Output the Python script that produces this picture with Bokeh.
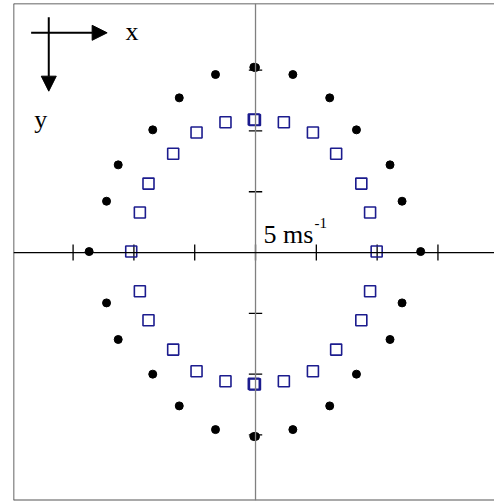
from bokeh.plotting import figure
from bokeh.models import Range1d, Span, Arrow, NormalHead, Label, ColumnDataSource
from bokeh.embed import file_html
from bokeh.resources import INLINE

# Velocity components in m/s (x to the right, y downwards)
dots_x = [-0.14, 0.0, -3.29, -6.27, -8.45, -11.29, -12.25, -13.68, -12.25, -11.29, -8.45, -6.27, -3.29, -0.14, 0.0,
          3.07, 6.10, 8.30, 11.06, 12.05, 13.58, 12.05, 11.06, 8.30, 6.10, 3.07]
dots_y = [-15.24, -15.22, -14.64, -12.72, -10.09, -7.21, -4.22, -0.08, 4.14, 7.15, 10.00, 12.61, 14.56, 15.13, 15.12,
          14.56, 12.61, 10.00, 7.15, 4.14, -0.08, -4.22, -7.21, -10.09, -12.72, -14.64]

squares_x = [-0.14, -0.05, -2.47, -4.85, -6.77, -8.80, -9.51, -10.22, -9.51, -8.80, -6.77, -4.85, -2.47, -0.14, -0.05,
             2.33, 4.72, 6.63, 8.70, 9.42, 9.96, 9.42, 8.70, 6.63, 4.72, 2.33]
squares_y = [-10.94, -10.90, -10.72, -9.87, -8.12, -5.67, -3.29, -0.08, 3.18, 5.57, 7.98, 9.76, 10.58, 10.80, 10.84,
             10.58, 9.76, 7.98, 5.57, 3.18, -0.08, -3.29, -5.67, -8.12, -9.87, -10.72]

x_ticks = [-15, -10, -5, 0, 5, 10, 15]
y_ticks = [-15, -10, -5, 5, 10, 15]

scale_text = "5 ms"
scale_sup = "-1"

x_range = Range1d(-19.9, 19.65)
y_range = Range1d(20.39, -20.48)  # y increases downwards

p = figure(width=494, height=501, x_range=x_range, y_range=y_range,
           output_backend="svg", toolbar_location=None,
           x_axis_location=None, y_axis_location=None,
           min_border_left=13, min_border_right=0, min_border_top=3, min_border_bottom=1)
p.outline_line_color = None
p.background_fill_color = "white"
p.border_fill_color = "white"
for g in p.grid:
    g.visible = False

# frame on three sides
p.add_layout(Span(location=x_range.start, dimension="height", line_color="#333333", line_width=1.5))
p.add_layout(Span(location=y_range.end, dimension="width", line_color="#333333", line_width=1.5))
p.add_layout(Span(location=y_range.start, dimension="width", line_color="#555555", line_width=2))

# central axes
p.add_layout(Span(location=0, dimension="height", line_color="#808080", line_width=1.3))
p.add_layout(Span(location=0, dimension="width", line_color="black", line_width=1.3))

tx = ColumnDataSource(dict(x=x_ticks, y0=[-0.66] * len(x_ticks), y1=[0.66] * len(x_ticks)))
p.segment(x0="x", y0="y0", x1="x", y1="y1", source=tx, line_color="black", line_width=1.3)
ty = ColumnDataSource(dict(y=y_ticks, x0=[-0.55] * len(y_ticks), x1=[0.55] * len(y_ticks)))
p.segment(x0="x0", y0="y", x1="x1", y1="y", source=ty, line_color="black", line_width=1.3)

# data
p.scatter(squares_x, squares_y, marker="square", size=11, fill_color=None,
          line_color="#1c1c8e", line_width=1.6)
p.scatter(dots_x, dots_y, marker="circle", size=8, fill_color="black", line_color="black")

# direction arrows
p.add_layout(Arrow(x_start=-18.45, y_start=-18.07, x_end=-12.2, y_end=-18.07,
                   line_color="black", line_width=2,
                   end=NormalHead(size=15, fill_color="black", line_color="black")))
p.add_layout(Arrow(x_start=-17.0, y_start=-19.35, x_end=-17.0, y_end=-13.27,
                   line_color="black", line_width=2,
                   end=NormalHead(size=15, fill_color="black", line_color="black")))

serif = "Liberation Serif"
p.add_layout(Label(x=-10.7, y=-18.2, text="x", text_font=serif, text_font_size="26px",
                   text_baseline="alphabetic", text_color="black"))
p.add_layout(Label(x=-18.2, y=-10.95, text="y", text_font=serif, text_font_size="26px",
                   text_baseline="alphabetic", text_color="black"))
p.add_layout(Label(x=0.65, y=-1.5, text=scale_text, text_font=serif, text_font_size="26px",
                   text_baseline="alphabetic", text_color="black"))
p.add_layout(Label(x=4.85, y=-2.45, text=scale_sup, text_font=serif, text_font_size="15px",
                   text_baseline="alphabetic", text_color="black"))

open("out.html", "w").write(file_html(p, INLINE))
